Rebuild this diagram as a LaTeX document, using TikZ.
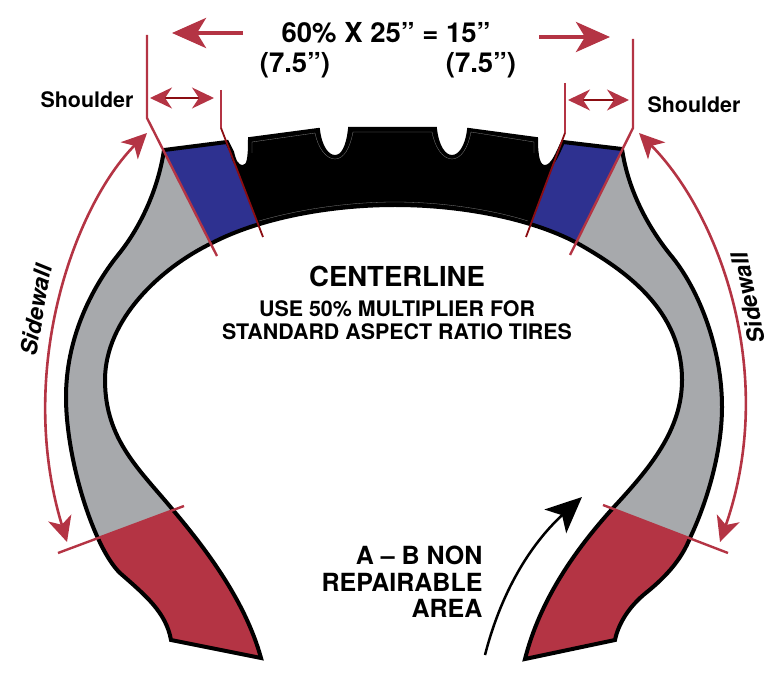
\documentclass[tikz,border=0pt]{standalone}
\usepackage{fontspec}
\setmainfont{TeX Gyre Heros}
\usepackage{tikz}
\usetikzlibrary{arrows.meta}

\definecolor{tirered}{HTML}{B43444}
\definecolor{darkcut}{HTML}{8B0D12}
\definecolor{tireblue}{HTML}{2E3190}
\definecolor{tiregray}{HTML}{A7A9AC}

\def\tirepath{(261,658) -- (171,640)
	.. controls (166,612) and (145,595) .. (120,573)
	.. controls (94,548) and (66,460) .. (66,397)
	.. controls (66,340) and (90,290) .. (118,255)
	.. controls (140,228) and (158,190) .. (164,150)
	-- (227,142) -- (232,152)
	.. controls (234,160) and (236,167) .. (243,167)
	.. controls (249,167) and (250,158) .. (250,139)
	-- (318,130)
	.. controls (320,147) and (327,157) .. (335,157)
	.. controls (343,157) and (348,147) .. (350,129)
	-- (435,129)
	.. controls (437,147) and (444,157) .. (452,157)
	.. controls (460,157) and (467,147) .. (469,130)
	-- (536,139)
	.. controls (536,157) and (538,167) .. (545,167)
	.. controls (553,167) and (558,152) .. (563,142)
	-- (622,149)
	.. controls (628,190) and (648,228) .. (673,258)
	.. controls (700,292) and (722,350) .. (722,407)
	.. controls (722,450) and (708,500) .. (690,538)
	.. controls (682,558) and (668,575) .. (647,592)
	.. controls (628,607) and (618,625) .. (615,640)
	-- (525,659)
	.. controls (540,600) and (575,550) .. (613,508)
	.. controls (650,468) and (682,430) .. (682,380)
	.. controls (682,310) and (625,270) .. (577,243)
	.. controls (530,218) and (460,205) .. (395,205)
	.. controls (330,205) and (260,218) .. (212,243)
	.. controls (160,268) and (105,320) .. (105,380)
	.. controls (105,440) and (140,470) .. (173,510)
	.. controls (205,548) and (245,600) .. (261,658)
	-- cycle}

\tikzset{
	cutline/.style={tirered, line width=2.4pt},
	darkline/.style={darkcut, line width=1.8pt},
	bigtip/.style={-{Stealth[length=34pt, width=30pt, inset=9pt]}, tirered, line width=4pt},
	sidetip/.style={{Stealth[length=25pt, width=24pt, inset=7pt]}-{Stealth[length=25pt, width=24pt, inset=7pt]}, tirered, line width=2.6pt},
	shouldertip/.style={{Stealth[tirered, length=22pt, width=21pt, inset=7pt]}-{Stealth[tirered, length=22pt, width=21pt, inset=7pt]}, darkcut, line width=1.4pt},
	big/.style={font=\fontsize{27.5}{32}\selectfont\bfseries},
	mid/.style={font=\fontsize{21.4}{24}\selectfont\bfseries},
	small/.style={font=\fontsize{21.4}{24}\selectfont\bfseries},
	slanted/.style={font=\fontsize{23}{24}\selectfont\bfseries\itshape},
}

\begin{document}
\begin{tikzpicture}[x=1pt, y=-1pt]
	\useasboundingbox (0,0) rectangle (776,684);

	% tire colours, kept inside the outline
	\begin{scope}
		\clip \tirepath;
		\fill[tiregray] (0,100) -- (147,118) -- (217,256) -- (184,506) -- (58,553) -- (0,575) -- cycle;
		\fill[tiregray] (776,100) -- (633,128) -- (570,255) -- (603,505) -- (728,553) -- (776,575) -- cycle;
		\fill[tirered] (58,553) -- (184,506) -- (300,506) -- (300,684) -- (0,684) -- (0,575) -- cycle;
		\fill[tirered] (728,553) -- (603,505) -- (500,505) -- (500,684) -- (776,684) -- (776,575) -- cycle;
		\fill[tireblue] (147,118) -- (221,128) -- (263,237) -- (217,256) -- cycle;
		\fill[tireblue] (633,128) -- (565,133) -- (526,237) -- (570,255) -- cycle;
		\fill[black] (221,90) -- (565,90) -- (565,133) -- (526,237) -- (263,237) -- (221,128) -- cycle;
	\end{scope}
	\draw[black, line width=4pt] \tirepath;

	% faint line inside the tread
	\draw[gray, line width=0.3pt] (252,153) -- (252,142) -- (315,133)
		.. controls (318,148) and (326,159) .. (335,159) .. controls (344,159) and (350,148) .. (353,132)
		-- (432,132) .. controls (435,148) and (443,159) .. (452,159) .. controls (461,159) and (468,148) .. (471,132)
		-- (534,142) -- (534,153);
	\draw[gray, line width=0.3pt] (259,221) .. controls (300,209) and (350,202) .. (395,202) .. controls (440,202) and (490,209) .. (528,221);

	\coordinate (ltop) at (147,35);
	\coordinate (lbend) at (147,118);
	\coordinate (lfoot) at (217,256);
	\coordinate (ctop) at (221,90);
	\coordinate (cbend) at (221,128);
	\coordinate (cfoot) at (263,237);
	\coordinate (rtop) at (633,39);
	\coordinate (rbend) at (633,128);
	\coordinate (rfoot) at (570,255);
	\coordinate (dtop) at (565,83);
	\coordinate (dbend) at (565,133);
	\coordinate (dfoot) at (526,237);

	\draw[cutline] (ltop) -- (lbend) -- (lfoot);
	\draw[cutline] (rtop) -- (rbend) -- (rfoot);
	\draw[cutline] (ctop) -- (cbend);
	\draw[cutline] (dtop) -- (dbend);
	\draw[darkline] (cbend) -- (cfoot);
	\draw[darkline] (dbend) -- (dfoot);

	\coordinate (lowa) at (58,553);
	\coordinate (lowb) at (184,506);
	\coordinate (lowc) at (603,505);
	\coordinate (lowd) at (728,553);
	\draw[cutline] (lowa) -- (lowb);
	\draw[cutline] (lowc) -- (lowd);

	% arrows
	\coordinate (biglstart) at (243,33);
	\coordinate (biglend) at (172,33);
	\coordinate (bigrstart) at (539,37);
	\coordinate (bigrend) at (610,37);
	\draw[bigtip] (biglstart) -- (biglend);
	\draw[bigtip] (bigrstart) -- (bigrend);

	\coordinate (shla) at (150,98);
	\coordinate (shlb) at (214,98);
	\coordinate (shra) at (568,100);
	\coordinate (shrb) at (629,100);
	\draw[shouldertip] (shla) -- (shlb);
	\draw[shouldertip] (shra) -- (shrb);

	\coordinate (swla) at (147,133);
	\coordinate (swlb) at (67,542);
	\coordinate (swra) at (639,133);
	\coordinate (swrb) at (720,542);
	\draw[sidetip] (swla) .. controls (75,205) and (15,370) .. (swlb);
	\draw[sidetip] (swra) .. controls (720,215) and (778,375) .. (swrb);

	\coordinate (blacka) at (485,655);
	\coordinate (blackb) at (582,497);
	\draw[-{Stealth[length=36pt, width=32pt, inset=9pt]}, black, line width=2.5pt] (blacka) .. controls (503,585) and (535,540) .. (blackb);

	% labels
	\node[big, anchor=base] (width) at (386,43) {60\% X 25” = 15”};
	\node[big, anchor=base] (halfl) at (295,73) {(7.5”)};
	\node[big, anchor=base] (halfr) at (481,73) {(7.5”)};
	\node[small, anchor=base] (shoulderl) at (87,108) {Shoulder};
	\node[small, anchor=base] (shoulderr) at (694,113) {Shoulder};
	\node[big, anchor=base] (center) at (397,287) {CENTERLINE};
	\node[mid, anchor=base] (multa) at (397,317) {USE 50\% MULTIPLIER FOR};
	\node[mid, anchor=base] (multb) at (397,340) {STANDARD ASPECT RATIO TIRES};
	\node[font=\fontsize{25}{26.5}\selectfont\bfseries, align=right, anchor=east] (area) at (486,582) {A – B NON\\REPAIRABLE\\AREA};
	\node[slanted, rotate=80] (sidel) at (36,310) {Sidewall};
	\node[slanted, rotate=102] (sider) at (748,298) {Sidewall};
\end{tikzpicture}
\end{document}
